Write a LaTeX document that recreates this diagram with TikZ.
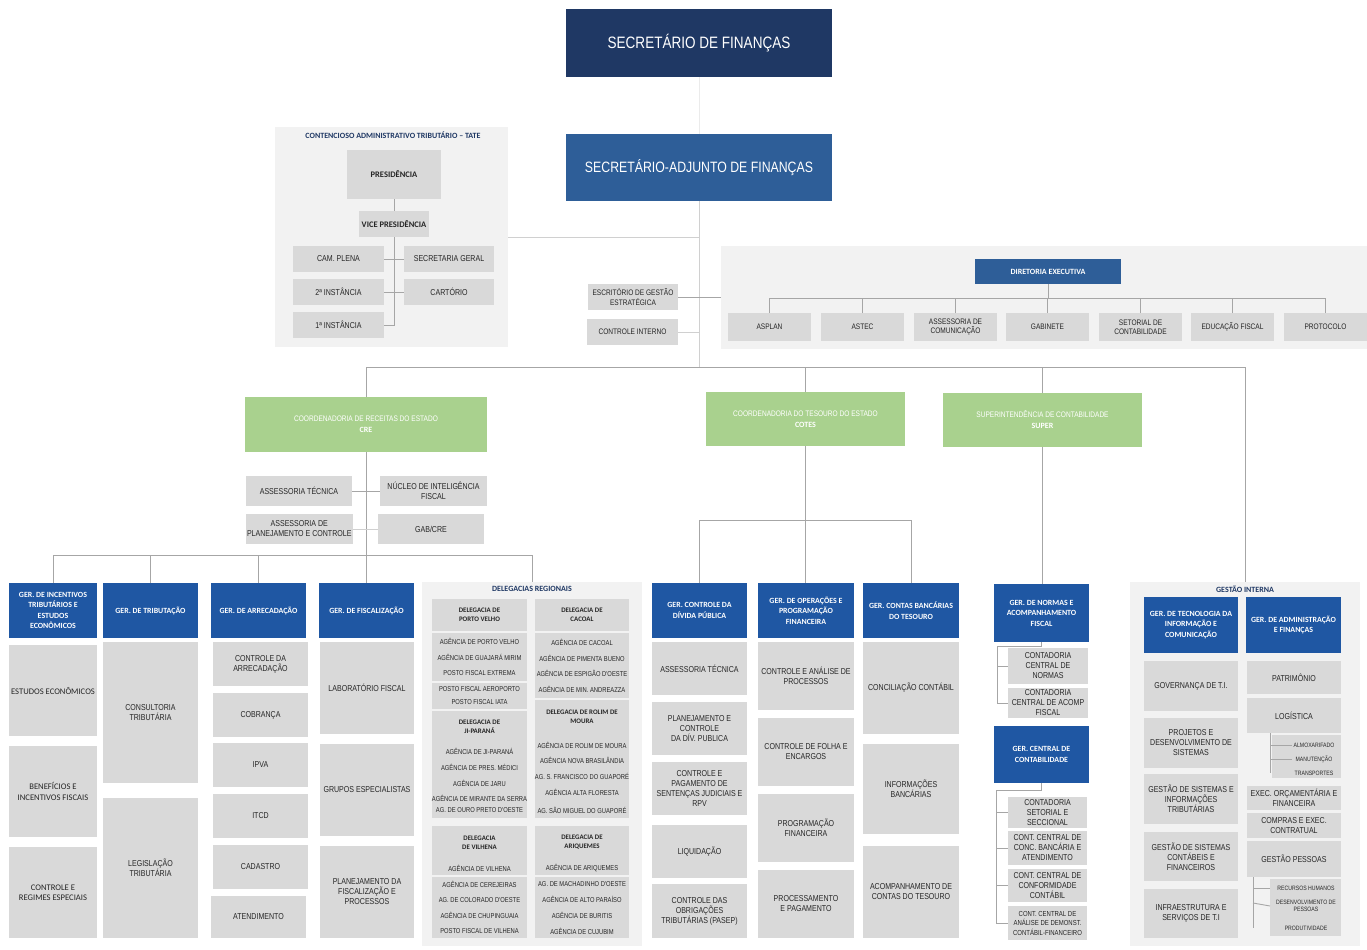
\documentclass[tikz,border=0pt]{standalone}
\usepackage{fontspec}
\setmainfont{Liberation Sans}
\newfontfamily\narrowf[FakeStretch=0.82]{Liberation Sans}
\newfontfamily\calib{Carlito}
\definecolor{navy}{HTML}{1F3864}
\definecolor{midblue}{HTML}{2E5E98}
\definecolor{gerblue}{HTML}{1F57A3}
\definecolor{green1}{HTML}{A9D18E}
\definecolor{boxgray}{HTML}{D9D9D9}
\definecolor{panelgray}{HTML}{F2F2F2}
\definecolor{linegray}{HTML}{A6A6A6}
\definecolor{lightline}{HTML}{D0D0D0}
\definecolor{faintline}{HTML}{EBEBEB}
\definecolor{txt}{HTML}{262626}
\newcommand\bx[7]{\node[#6,anchor=north west,minimum width={(#4-#2)*1bp},minimum height={(#5-#3)*1bp}] (#1) at (#2,#3) {#7};}
\newcommand\dt[4]{\node[dtx] (#1) at (#2,#3) {#4};}
\tikzset{
 ln/.style={draw=linegray,line width=0.9bp},
 lnl/.style={draw=lightline,line width=0.9bp},
 lnf/.style={draw=faintline,line width=0.9bp},
 base/.style={inner sep=1bp,outer sep=0pt,align=center},
 gbox/.style={base,fill=boxgray,text=txt,font=\narrowf\fontsize{8.6bp}{10bp}\selectfont},
 sgbox/.style={gbox,font=\narrowf\fontsize{8bp}{9.5bp}\selectfont},
 cbox/.style={gbox,font=\calib\fontsize{8.6bp}{10.5bp}\selectfont},
 bgbox/.style={gbox,font=\calib\bfseries\fontsize{8.5bp}{10bp}\selectfont},
 hbox/.style={base,fill=gerblue,text=white,font=\calib\bfseries\fontsize{7.9bp}{10.5bp}\selectfont},
 topbox/.style={base,text=white,font=\narrowf\fontsize{16.5bp}{19bp}\selectfont},
 grbox/.style={base,fill=green1,text=white,font=\narrowf\fontsize{8bp}{11bp}\selectfont},
 panel/.style={base,fill=panelgray},
 ttl/.style={text=navy,font=\calib\bfseries\fontsize{8bp}{9bp}\selectfont,inner sep=0pt},
 dtx/.style={text=txt,font=\narrowf\fontsize{7.1bp}{8bp}\selectfont,inner sep=0pt},
 dhd/.style={text=txt,font=\calib\bfseries\fontsize{6.9bp}{9bp}\selectfont,inner sep=0pt,align=center},
 dbox/.style={base,fill=boxgray},
 tinyt/.style={text=txt,font=\narrowf\fontsize{6.3bp}{7bp}\selectfont,inner sep=0pt,align=center},
}
\begin{document}
\begin{tikzpicture}[x=1bp,y=-1bp]
\fill[white] (0,0) rectangle (1367,949);
\useasboundingbox (0,0) rectangle (1367,949);

% ---------- top
\bx{sec}{566}{9}{832}{77}{topbox,fill=navy}{SECRETÁRIO DE FINANÇAS}
\bx{adj}{566}{134}{832}{201}{topbox,fill=midblue,font=\narrowf\fontsize{15bp}{18bp}\selectfont}{SECRETÁRIO-ADJUNTO DE FINANÇAS}

% ---------- TATE
\bx{tate}{275}{127}{508}{347}{panel}{}
\node[ttl] (tatet) at (393,135) {CONTENCIOSO ADMINISTRATIVO TRIBUTÁRIO – TATE};
\bx{pres}{347}{150}{441}{199}{bgbox}{PRESIDÊNCIA}
\bx{vice}{359}{211}{429}{237}{bgbox}{VICE PRESIDÊNCIA}
\bx{cam}{293}{246}{384}{272}{gbox}{CAM. PLENA}
\bx{sg}{404}{246}{494}{272}{gbox}{SECRETARIA GERAL}
\bx{i2}{293}{279}{384}{305}{gbox}{2ª INSTÂNCIA}
\bx{cart}{404}{279}{494}{305}{gbox}{CARTÓRIO}
\bx{i1}{293}{312}{384}{338}{gbox}{1ª INSTÂNCIA}

% ---------- staff
\bx{esc}{588}{284}{678}{310}{sgbox}{ESCRITÓRIO DE GESTÃO\\ESTRATÉGICA}
\bx{ci}{587}{319}{678}{345}{sgbox}{CONTROLE INTERNO}

% ---------- Diretoria executiva
\bx{dirp}{721}{246}{1367}{349}{panel}{}
\bx{dex}{975}{259}{1121}{284}{hbox,fill=midblue,font=\calib\bfseries\fontsize{8bp}{9bp}\selectfont}{DIRETORIA EXECUTIVA}
\bx{d1}{728}{313}{811}{341}{sgbox}{ASPLAN}
\bx{d2}{821}{313}{904}{341}{sgbox}{ASTEC}
\bx{d3}{914}{313}{997}{341}{sgbox}{ASSESSORIA DE\\COMUNICAÇÃO}
\bx{d4}{1006}{313}{1089}{341}{sgbox}{GABINETE}
\bx{d5}{1099}{313}{1182}{341}{sgbox}{SETORIAL DE\\CONTABILIDADE}
\bx{d6}{1191}{313}{1274}{341}{sgbox}{EDUCAÇÃO FISCAL}
\bx{d7}{1284}{313}{1367}{341}{sgbox}{PROTOCOLO}

% ---------- level 2
\bx{cre}{245}{397}{487}{452}{grbox}{COORDENADORIA DE RECEITAS DO ESTADO\\{\calib\bfseries CRE}}
\bx{cotes}{706}{392}{905}{446}{grbox}{COORDENADORIA DO TESOURO DO ESTADO\\{\calib\bfseries COTES}}
\bx{super}{943}{393}{1142}{447}{grbox}{SUPERINTENDÊNCIA DE CONTABILIDADE\\{\calib\bfseries SUPER}}

% ---------- CRE staff
\bx{at}{246}{476}{352}{506}{gbox}{ASSESSORIA TÉCNICA}
\bx{nif}{380}{476}{487}{506}{gbox}{NÚCLEO DE INTELIGÊNCIA\\FISCAL}
\bx{apc}{246}{514}{352}{544}{gbox}{ASSESSORIA DE\\PLANEJAMENTO E CONTROLE}
\bx{gab}{378}{514}{484}{544}{gbox}{GAB/CRE}

% ---------- CRE managers
\bx{m1}{9}{583}{97}{638}{hbox}{GER. DE INCENTIVOS\\TRIBUTÁRIOS E\\ESTUDOS\\ECONÔMICOS}
\bx{m1a}{9}{645}{97}{736}{cbox}{ESTUDOS ECONÔMICOS}
\bx{m1b}{9}{746}{97}{837}{cbox}{BENEFÍCIOS E\\INCENTIVOS FISCAIS}
\bx{m1c}{9}{847}{97}{938}{cbox}{CONTROLE E\\REGIMES ESPECIAIS}

\bx{m2}{103}{583}{198}{638}{hbox}{GER. DE TRIBUTAÇÃO}
\bx{m2a}{103}{642}{198}{783}{gbox}{CONSULTORIA\\TRIBUTÁRIA}
\bx{m2b}{103}{798}{198}{938}{gbox}{LEGISLAÇÃO\\TRIBUTÁRIA}

\bx{m3}{211}{583}{306}{638}{hbox}{GER. DE ARRECADAÇÃO}
\bx{m3a}{213}{642}{308}{686}{gbox}{CONTROLE DA\\ARRECADAÇÃO}
\bx{m3b}{213}{693}{308}{737}{gbox}{COBRANÇA}
\bx{m3c}{213}{743}{308}{787}{gbox}{IPVA}
\bx{m3d}{213}{794}{308}{838}{gbox}{ITCD}
\bx{m3e}{213}{845}{308}{889}{gbox}{CADASTRO}
\bx{m3f}{211}{896}{306}{938}{gbox}{ATENDIMENTO}

\bx{m4}{319}{583}{414}{638}{hbox}{GER. DE FISCALIZAÇÃO}
\bx{m4a}{320}{642}{414}{734}{gbox}{LABORATÓRIO FISCAL}
\bx{m4b}{320}{744}{414}{836}{gbox}{GRUPOS ESPECIALISTAS}
\bx{m4c}{320}{846}{414}{938}{gbox}{PLANEJAMENTO DA\\FISCALIZAÇÃO E\\PROCESSOS}

% ---------- Delegacias regionais
\bx{delreg}{422}{582}{642}{946}{panel}{}
\node[ttl] (delregt) at (532,589) {DELEGACIAS REGIONAIS};
\bx{dpvh}{432}{599}{527}{631}{dbox}{}
\bx{dpv1}{432}{633}{527}{681}{dbox}{}
\bx{dpv2}{432}{683}{527}{709}{dbox}{}
\bx{djp}{432}{711}{527}{818}{dbox}{}
\bx{dvh}{432}{826}{527}{875}{dbox}{}
\bx{dv2}{432}{877}{527}{938}{dbox}{}
\bx{dch}{535}{599}{629}{631}{dbox}{}
\bx{dc1}{535}{633}{629}{698}{dbox}{}
\bx{drm}{535}{700}{629}{818}{dbox}{}
\bx{dah}{535}{826}{629}{875}{dbox}{}
\bx{da2}{535}{877}{629}{938}{dbox}{}

\node[dhd] (dpvht) at (479.5,615) {DELEGACIA DE\\PORTO VELHO};
\dt{l1}{479.5}{641}{AGÊNCIA DE PORTO VELHO}
\dt{l2}{479.5}{657}{AGÊNCIA DE GUAJARÁ MIRIM}
\dt{l3}{479.5}{673}{POSTO FISCAL EXTREMA}
\dt{l4}{479.5}{689}{POSTO FISCAL AEROPORTO}
\dt{l5}{479.5}{702}{POSTO FISCAL IATA}
\node[dhd] (djpt) at (479.5,727) {DELEGACIA DE\\JI-PARANÁ};
\dt{l6}{479.5}{751}{AGÊNCIA DE JI-PARANÁ}
\dt{l7}{479.5}{767}{AGÊNCIA DE PRES. MÉDICI}
\dt{l8}{479.5}{783}{AGÊNCIA DE JARU}
\dt{l9}{479.5}{798}{AGÊNCIA DE MIRANTE DA SERRA}
\dt{l10}{479.5}{810}{AG. DE OURO PRETO D'OESTE}
\node[dhd] (dvht) at (479.5,842.5) {DELEGACIA\\DE VILHENA};
\dt{l11}{479.5}{868}{AGÊNCIA DE VILHENA}
\dt{l12}{479.5}{884}{AGÊNCIA DE CEREJEIRAS}
\dt{l13}{479.5}{900}{AG. DE COLORADO D'OESTE}
\dt{l14}{479.5}{915}{AGÊNCIA DE CHUPINGUAIA}
\dt{l15}{479.5}{931}{POSTO FISCAL DE VILHENA}

\node[dhd] (dcht) at (582,615) {DELEGACIA DE\\CACOAL};
\dt{r1}{582}{642}{AGÊNCIA DE CACOAL}
\dt{r2}{582}{658}{AGÊNCIA DE PIMENTA BUENO}
\dt{r3}{582}{673}{AGÊNCIA DE ESPIGÃO D'OESTE}
\dt{r4}{582}{689}{AGÊNCIA DE MIN. ANDREAZZA}
\node[dhd] (drmt) at (582,717) {DELEGACIA DE ROLIM DE\\MOURA};
\dt{r5}{582}{745}{AGÊNCIA DE ROLIM DE MOURA}
\dt{r6}{582}{760}{AGÊNCIA NOVA BRASILÂNDIA}
\dt{r7}{582}{776}{AG. S. FRANCISCO DO GUAPORÉ}
\dt{r8}{582}{792}{AGÊNCIA ALTA FLORESTA}
\dt{r9}{582}{810}{AG. SÃO MIGUEL DO GUAPORÉ}
\node[dhd] (daht) at (582,842.5) {DELEGACIA DE\\ARIQUEMES};
\dt{r10}{582}{868}{AGÊNCIA DE ARIQUEMES}
\dt{r11}{582}{884}{AG. DE MACHADINHO D'OESTE}
\dt{r12}{582}{899}{AGÊNCIA DE ALTO PARAÍSO}
\dt{r13}{582}{915}{AGÊNCIA DE BURITIS}
\dt{r14}{582}{931}{AGÊNCIA DE CUJUBIM}

% ---------- COTES managers
\bx{g1}{652}{583}{747}{638}{hbox}{GER. CONTROLE DA\\DÍVIDA PÚBLICA}
\bx{g1a}{652}{642}{747}{695}{gbox}{ASSESSORIA TÉCNICA}
\bx{g1b}{652}{702}{747}{755}{gbox}{PLANEJAMENTO E\\CONTROLE\\DA DÍV. PUBLICA}
\bx{g1c}{652}{762}{747}{815}{gbox}{CONTROLE E\\PAGAMENTO DE\\SENTENÇAS JUDICIAIS E\\RPV}
\bx{g1d}{652}{825}{747}{878}{gbox}{LIQUIDAÇÃO}
\bx{g1e}{652}{884}{747}{938}{gbox}{CONTROLE DAS\\OBRIGAÇÕES\\TRIBUTÁRIAS (PASEP)}

\bx{g2}{758}{583}{854}{638}{hbox}{GER. DE OPERAÇÕES E\\PROGRAMAÇÃO\\FINANCEIRA}
\bx{g2a}{758}{642}{854}{710}{gbox}{CONTROLE E ANÁLISE DE\\PROCESSOS}
\bx{g2b}{758}{718}{854}{786}{gbox}{CONTROLE DE FOLHA E\\ENCARGOS}
\bx{g2c}{758}{794}{854}{862}{gbox}{PROGRAMAÇÃO\\FINANCEIRA}
\bx{g2d}{758}{870}{854}{938}{gbox}{PROCESSAMENTO\\E PAGAMENTO}

\bx{g3}{863}{583}{959}{638}{hbox}{GER. CONTAS BANCÁRIAS\\DO TESOURO}
\bx{g3a}{863}{642}{959}{734}{gbox}{CONCILIAÇÃO CONTÁBIL}
\bx{g3b}{863}{744}{959}{834}{gbox}{INFORMAÇÕES\\BANCÁRIAS}
\bx{g3c}{863}{846}{959}{938}{gbox}{ACOMPANHAMENTO DE\\CONTAS DO TESOURO}

% ---------- SUPER managers
\bx{n1}{994}{584}{1089}{642}{hbox}{GER. DE NORMAS E\\ACOMPANHAMENTO\\FISCAL}
\bx{ns1}{1008}{648}{1088}{684}{gbox}{CONTADORIA\\CENTRAL DE\\NORMAS}
\bx{ns2}{1008}{688}{1088}{718}{gbox}{CONTADORIA\\CENTRAL DE ACOMP\\FISCAL}
\bx{n2}{994}{726}{1089}{783}{hbox}{GER. CENTRAL DE\\CONTABILIDADE}
\bx{cs1}{1008}{797}{1087}{828}{gbox}{CONTADORIA\\SETORIAL E\\SECCIONAL}
\bx{cs2}{1008}{831}{1087}{865}{gbox}{CONT. CENTRAL DE\\CONC. BANCÁRIA E\\ATENDIMENTO}
\bx{cs3}{1008}{869}{1087}{902}{gbox}{CONT. CENTRAL DE\\CONFORMIDADE\\CONTÁBIL}
\bx{cs4}{1008}{906}{1087}{940}{gbox,font=\narrowf\fontsize{7.3bp}{9.5bp}\selectfont}{CONT. CENTRAL DE\\ANÁLISE DE DEMONST.\\CONTÁBIL-FINANCEIRO}

% ---------- Gestao interna
\bx{gi}{1130}{582}{1360}{946}{panel}{}
\node[ttl] (git) at (1245,589) {GESTÃO INTERNA};
\bx{t0}{1144}{597}{1238}{653}{hbox}{GER. DE TECNOLOGIA DA\\INFORMAÇÃO E\\COMUNICAÇÃO}
\bx{t1}{1144}{661}{1238}{711}{gbox}{GOVERNANÇA DE T.I.}
\bx{t2}{1144}{718}{1238}{768}{gbox}{PROJETOS E\\DESENVOLVIMENTO DE\\SISTEMAS}
\bx{t3}{1144}{774}{1238}{824}{gbox}{GESTÃO DE SISTEMAS E\\INFORMAÇÕES\\TRIBUTÁRIAS}
\bx{t4}{1144}{832}{1238}{881}{gbox}{GESTÃO DE SISTEMAS\\CONTÁBEIS E\\FINANCEIROS}
\bx{t5}{1144}{889}{1238}{938}{gbox}{INFRAESTRUTURA E\\SERVIÇOS DE T.I}

\bx{a0}{1246}{597}{1341}{653}{hbox}{GER. DE ADMINISTRAÇÃO\\E FINANÇAS}
\bx{a1}{1247}{661}{1341}{694}{gbox}{PATRIMÔNIO}
\bx{a2}{1247}{698}{1341}{733}{gbox}{LOGÍSTICA}
\bx{a2s}{1272}{735}{1341}{778}{dbox}{}
\node[tinyt] (alm) at (1314,745) {ALMOXARIFADO};
\node[tinyt] (man) at (1314,759) {MANUTENÇÃO};
\node[tinyt] (tra) at (1314,773) {TRANSPORTES};
\bx{a3}{1247}{786}{1341}{810}{gbox}{EXEC. ORÇAMENTÁRIA E\\FINANCEIRA}
\bx{a4}{1247}{813}{1341}{838}{gbox}{COMPRAS E EXEC.\\CONTRATUAL}
\bx{a5}{1247}{841}{1341}{877}{gbox}{GESTÃO PESSOAS}
\bx{a5s}{1270}{879}{1341}{936}{dbox}{}
\node[tinyt] (rh) at (1306,888) {RECURSOS HUMANOS};
\node[tinyt] (dp) at (1306,906) {DESENVOLVIMENTO DE\\PESSOAS};
\node[tinyt] (prod) at (1306,928) {PRODUTIVIDADE};

% ---------- connectors
\coordinate (mbar) at (699,367);
\draw[lnf] (sec.south) -- (adj.north);
\draw[lnl] (adj.south) -- (mbar);
\draw[lnl] (tate.east) -- (tate.east -| adj.south);
\draw[ln] (esc.east) -- (esc.east -| dirp.west);
\draw[lnl] (ci.east) -- (ci.east -| adj.south);
\draw[ln] (cre.north) |- (gi.north |- mbar) -- (gi.north);
\draw[ln] (cotes.north) -- (cotes.north |- mbar);
\draw[ln] (super.north) -- (super.north |- mbar);

\coordinate (dbar) at (1048,298);
\draw[ln] (dex.south) -- (dbar);
\draw[ln] (d1.north) |- (d7.north |- dbar) -- (d7.north);
\foreach \n in {d2,d3,d4,d5,d6} \draw[ln] (\n.north) -- (\n.north |- dbar);

\draw[ln] (pres.south) -- (vice.north);
\draw[ln] (vice.south) |- (i1.east);
\draw[ln] (cam.east) -- (sg.west);
\draw[ln] (i2.east) -- (cart.west);

\coordinate (crebar) at (366,555);
\draw[ln] (cre.south) -- (cre.south |- m4.north);
\draw[ln] (at.east) -- (nif.west);
\draw[lnl] (apc.east) -- (gab.west);
\draw[ln] (m1.north) |- (delreg.north |- crebar) -- (delreg.north);
\draw[ln] (m2.north) -- (m2.north |- crebar);
\draw[ln] (m3.north) -- (m3.north |- crebar);

\coordinate (cbar) at (806,520);
\draw[ln] (cotes.south) -- (cotes.south |- g2.north);
\draw[ln] (g1.north) |- (g3.north |- cbar) -- (g3.north);

\draw[ln] (super.south) -- (super.south |- n1.north);
\coordinate (nb) at (997,646);
\draw[ln] (n1.south) |- (nb) -- (nb |- ns2.west) -- (ns2.west);
\draw[ln] (nb |- ns1.west) -- (ns1.west);
\coordinate (cb) at (996,790);
\draw[ln] (n2.south) |- (cb) -- (cb |- cs4.west) -- (cs4.west);
\draw[ln] (cb |- cs1.west) -- (cs1.west);
\draw[ln] (cb |- cs2.west) -- (cs2.west);
\draw[ln] (cb |- cs3.west) -- (cs3.west);

\coordinate (lb) at (1270,733);
\draw[ln] (lb) -- (lb |- tra);
\draw[ln] (lb |- alm) -- (1292,745);
\draw[ln] (lb |- man) -- (1292,759);
\coordinate (pb) at (1253,877);
\draw[ln] (pb) -- (1253,928);
\draw[ln] (pb |- rh) -- (a5s.west |- rh);
\draw[ln] (1253,903) -- (a5s.west |- dp);
\end{tikzpicture}
\end{document}
